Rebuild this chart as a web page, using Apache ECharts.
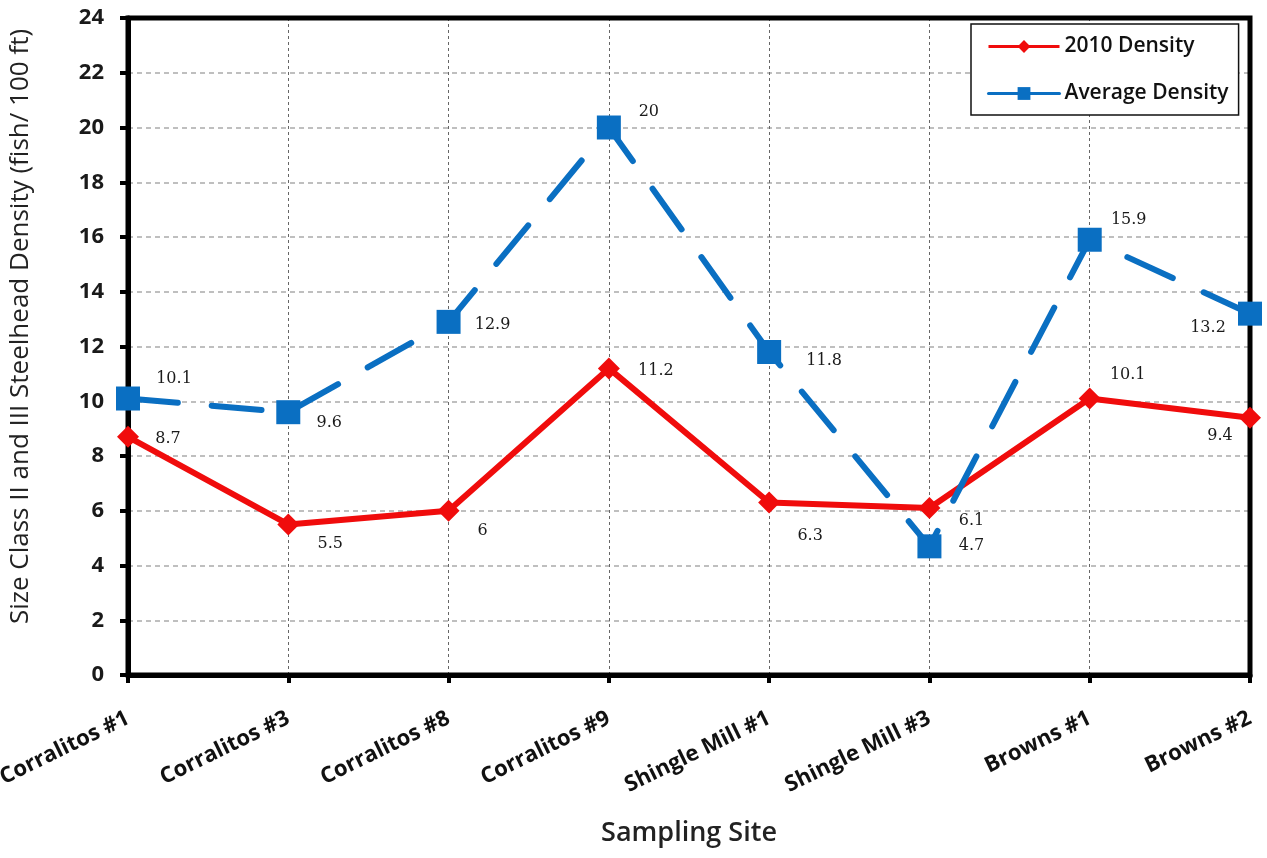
<!DOCTYPE html>
<html>
<head>
<meta charset="utf-8">
<script src="https://cdn.jsdelivr.net/npm/echarts@6/dist/echarts.min.js"></script>
<style>
  html, body { margin: 0; padding: 0; background: #fff; }
  #chart { width: 1267px; height: 858px; }
</style>
</head>
<body>
<div id="chart"></div>
<script>
// ---- data ----
const categories = ['Corralitos #1', 'Corralitos #3', 'Corralitos #8', 'Corralitos #9',
                    'Shingle Mill #1', 'Shingle Mill #3', 'Browns #1', 'Browns #2'];
const density2010 = [8.7, 5.5, 6, 11.2, 6.3, 6.1, 10.1, 9.4];
const densityAvg  = [10.1, 9.6, 12.9, 20, 11.8, 4.7, 15.9, 13.2];
const yTicks = { min: 0, max: 24, step: 2 };
const seriesNames = ['2010 Density', 'Average Density'];

// ---- label placement (style) ----
const offs2010 = [[40, 2], [42, 19], [34, 20], [47, 2], [41, 33], [42, 13], [38, -24], [-30, 18]];
const offsAvg  = [[46, -20], [41, 11], [44, 3], [40, -16], [55, 9], [42, 0], [39, -20], [-42, 14]];

function withLabels(values, offs) {
  return values.map((v, i) => ({ value: v, label: { offset: offs[i] } }));
}

const labelStyle = {
  show: true,
  position: 'inside',
  fontFamily: 'DejaVu Serif',
  fontSize: 16,
  color: '#1a1a1a',
  formatter: p => String(p.value)
};

const chart = echarts.init(document.getElementById('chart'), null, { renderer: 'canvas' });
chart.setOption({
  animation: false,
  backgroundColor: '#ffffff',
  grid: {
    left: 128, right: 17, top: 18, bottom: 183, z: 1,
    containLabel: false, outerBoundsMode: 'none',
    show: true, borderColor: '#000', borderWidth: 5, backgroundColor: 'transparent'
  },
  legend: {
    orient: 'vertical',
    left: 971, top: 24,
    padding: [10, 10, 9, 16],
    itemGap: 22,
    itemWidth: 71,
    itemHeight: 16,
    backgroundColor: '#fff',
    borderColor: '#111',
    borderWidth: 1.5,
    borderRadius: 0,
    lineStyle: { type: 'solid', width: 3 },
    textStyle: { fontFamily: 'Open Sans', fontSize: 21, fontWeight: 600, color: '#111', lineHeight: 25 },
    data: seriesNames
  },
  xAxis: {
    type: 'category',
    data: categories,
    boundaryGap: false,
    name: 'Sampling Site',
    nameLocation: 'middle',
    nameGap: 145,
    nameTextStyle: { fontFamily: 'Open Sans', fontSize: 27, fontWeight: 600, color: '#222', verticalAlign: 'top' },
    axisLine: { show: true, lineStyle: { color: '#000', width: 5 } },
    axisTick: { show: true, alignWithLabel: true, length: 8, lineStyle: { color: '#000', width: 4 } },
    axisLabel: {
      rotate: 26, margin: 42, interval: 0,
      fontFamily: 'Open Sans', fontSize: 22, fontWeight: 700, color: '#111'
    },
    splitLine: { show: true, lineStyle: { color: '#666', width: 1, type: [3, 3] } }
  },
  yAxis: {
    type: 'value',
    min: yTicks.min, max: yTicks.max, interval: yTicks.step,
    name: 'Size Class II and III Steelhead Density (fish/ 100 ft)',
    nameLocation: 'middle',
    nameGap: 94,
    nameTextStyle: { fontFamily: 'Open Sans', fontSize: 26, fontWeight: 500, color: '#222', padding: [0, 0, 0, 40] },
    axisLine: { show: true, lineStyle: { color: '#000', width: 5 } },
    axisTick: { show: true, length: 8, lineStyle: { color: '#000', width: 4 } },
    axisLabel: { margin: 24, fontFamily: 'Open Sans', fontSize: 22, fontWeight: 700, color: '#1a1a1a' },
    splitLine: { show: true, lineStyle: { color: '#aaa', width: 1.5, type: [5, 4] } }
  },
  series: [
    {
      name: seriesNames[0],
      type: 'line',
      data: withLabels(density2010, offs2010),
      symbol: 'diamond',
      symbolSize: 22,
      itemStyle: { color: '#F00C0C' },
      lineStyle: { color: '#F00C0C', width: 6 },
      label: labelStyle,
      z: 2
    },
    {
      name: seriesNames[1],
      type: 'line',
      data: withLabels(densityAvg, offsAvg),
      symbol: 'rect',
      symbolSize: 24,
      itemStyle: { color: '#0A6FC2' },
      lineStyle: { color: '#0A6FC2', width: 6, type: [50, 34], cap: 'round' },
      label: labelStyle,
      z: 3
    }
  ]
});
</script>
</body>
</html>
